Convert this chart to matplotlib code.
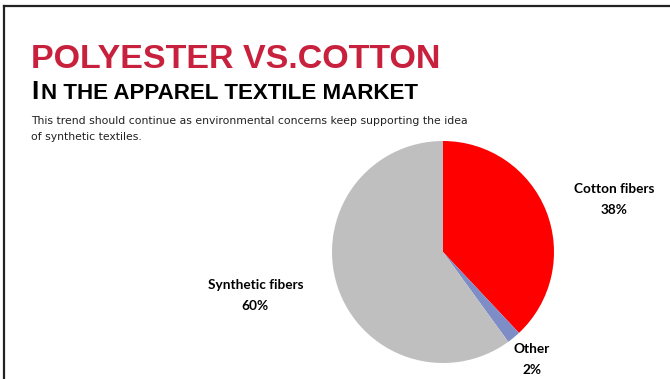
import matplotlib
matplotlib.use("Agg")
import matplotlib.pyplot as plt
from matplotlib.lines import Line2D

categories = ["Cotton fibers", "Other", "Synthetic fibers"]
shares = [38, 2, 60]
colors = ["#FF0000", "#7F8DC6", "#BFBFBF"]

fig = plt.figure(figsize=(6.7, 3.79), dpi=100)
fig.patch.set_facecolor("white")

# frame (top and left only)
fig.add_artist(Line2D([4 / 670, 1], [1 - 6 / 379] * 2, color="#222222", lw=1.6))
fig.add_artist(Line2D([4 / 670] * 2, [0, 1 - 6 / 379], color="#222222", lw=1.6))

fig.text(31 / 670, 1 - 68 / 379, "POLYESTER VS.COTTON", color="#C8213E",
         fontsize=24.5, fontweight="bold", family="Liberation Sans", va="baseline")
fig.text(31 / 670, 1 - 99 / 379, "I", color="black",
         fontsize=19, fontweight="bold", family="Liberation Sans", va="baseline")
fig.text(41 / 670, 1 - 99 / 379, "N THE APPAREL TEXTILE MARKET", color="black",
         fontsize=16.1, fontweight="bold", family="Liberation Sans", va="baseline")
fig.text(31 / 670, 1 - 124 / 379,
         "This trend should continue as environmental concerns keep supporting the idea",
         color="#222222", fontsize=7.85, family="DejaVu Sans", va="baseline")
fig.text(31 / 670, 1 - 140 / 379, "of synthetic textiles.",
         color="#222222", fontsize=7.85, family="DejaVu Sans", va="baseline")

ax = fig.add_axes([332 / 670, 16 / 379, 222 / 670, 222 / 379])
ax.pie(shares, colors=colors, startangle=90, counterclock=False,
       wedgeprops=dict(linewidth=0))
ax.set_xlim(-1, 1)
ax.set_ylim(-1, 1)
ax.set_aspect("equal")
ax.axis("off")

label_pos = [(1.54, 0.47), (0.80, -0.97), (-1.69, -0.39)]
for name, val, (lx, ly) in zip(categories, shares, label_pos):
    ax.text(lx, ly, f"{name}\n{val}%", ha="center", va="center",
            fontsize=9.8, fontweight="bold", family="Lato",
            linespacing=1.9, clip_on=False)

fig.savefig("out.png", dpi=100, facecolor="white")
